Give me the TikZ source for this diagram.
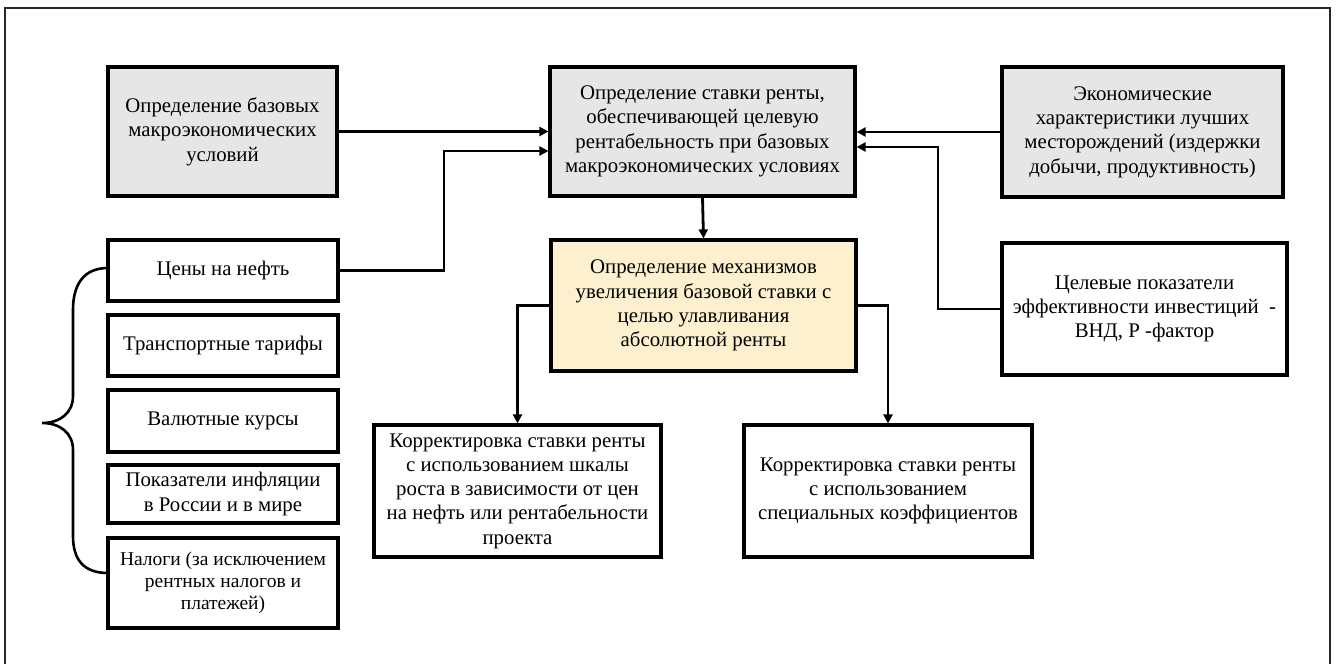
\documentclass[tikz,border=0pt]{standalone}
\usepackage{fontspec}
\setmainfont{Liberation Serif}
\usetikzlibrary{arrows.meta}
\definecolor{boxgray}{RGB}{230,230,230}
\definecolor{boxyellow}{RGB}{253,240,206}
\definecolor{framegray}{RGB}{40,40,40}
\begin{document}
\begin{tikzpicture}[x=1pt,y=-1pt,
  every node/.style={font=\fontsize{20.8}{24.3}\selectfont},
  box/.style={draw=black,line width=3.2pt,rectangle,align=center,inner sep=2pt},
  grayfill/.style={fill=boxgray},
  yellowfill/.style={fill=boxyellow},
  arr/.style={line width=2.8pt,-{Triangle[length=9pt,width=9pt]}},
  conn/.style={line width=2.6pt}]
\useasboundingbox (0,0) rectangle (1337,664);
\draw[framegray,line width=1.6pt] (5,664) -- (5,8) -- (1330,8) -- (1330,664);

\node[box,grayfill,minimum width=229pt,minimum height=129pt] (A) at (222.5,131.5)
  {Определение базовых\\макроэкономических\\условий};
\node[box,grayfill,minimum width=305pt,minimum height=129pt] (B) at (702.5,131.5)
  {Определение ставки ренты,\\обеспечивающей целевую\\рентабельность при базовых\\макроэкономических условиях};
\node[box,grayfill,minimum width=281pt,minimum height=130pt] (C) at (1142.5,132)
  {Экономические\\характеристики лучших\\месторождений (издержки\\добычи, продуктивность)};
\node[box,yellowfill,minimum width=305pt,minimum height=131pt] (D) at (703.5,305.5)
  {Определение механизмов\\увеличения базовой ставки с\\целью улавливания\\абсолютной ренты};
\node[box,minimum width=285pt,minimum height=132pt] (E) at (1144.5,309)
  {Целевые показатели\\эффективности инвестиций\ \ -\\ВНД, Р -фактор};
\node[box,minimum width=287pt,minimum height=132pt] (F) at (517.5,491)
  {Корректировка ставки ренты\\с использованием шкалы\\роста в зависимости от цен\\на нефть или рентабельности\\проекта};
\node[box,minimum width=288pt,minimum height=132pt] (G) at (888,491)
  {Корректировка ставки ренты\\с использованием\\специальных коэффициентов};

\node[box,minimum width=230pt,minimum height=61pt] (L1) at (223,270.5) {Цены на нефть};
\node[box,minimum width=230pt,minimum height=61pt] (L2) at (223,345.5) {Транспортные тарифы};
\node[box,minimum width=230pt,minimum height=62pt] (L3) at (223,421) {Валютные курсы};
\node[box,minimum width=230pt,minimum height=58pt] (L4) at (223,494) {Показатели инфляции\\в России и в мире};
\node[box,minimum width=230pt,minimum height=90pt,font=\fontsize{19.5}{21.7}\selectfont] (L5) at (223,583) {Налоги (за исключением\\рентных налогов и\\платежей)};

\coordinate (j1) at (444,0);
\coordinate (j2) at (938,0);

\draw[arr] (A.east) -- (A.east -| B.west);
\draw[arr] (L1.east) -- (L1.east -| j1) |- ([yshift=-19.5pt]B.west);
\draw[arr] (C.west) -- (C.west -| B.east);
\draw[arr] (E.west) -- (E.west -| j2) |- ([yshift=-15.5pt]B.east);
\draw[arr] (B.south) -- (D.north);
\draw[arr] (D.west) -| (F.north);
\draw[arr] (D.east) -| (G.north);

\coordinate (bt) at (108,268);
\coordinate (bb) at (108,573);
\draw[conn] (bt) .. controls (84,268) and (73,284) .. (73,310) -- (73,396)
  .. controls (73,413) and (60,423) .. (42,423)
  .. controls (60,423) and (73,433) .. (73,450) -- (73,536)
  .. controls (73,560) and (84,573) .. (bb);
\end{tikzpicture}
\end{document}
